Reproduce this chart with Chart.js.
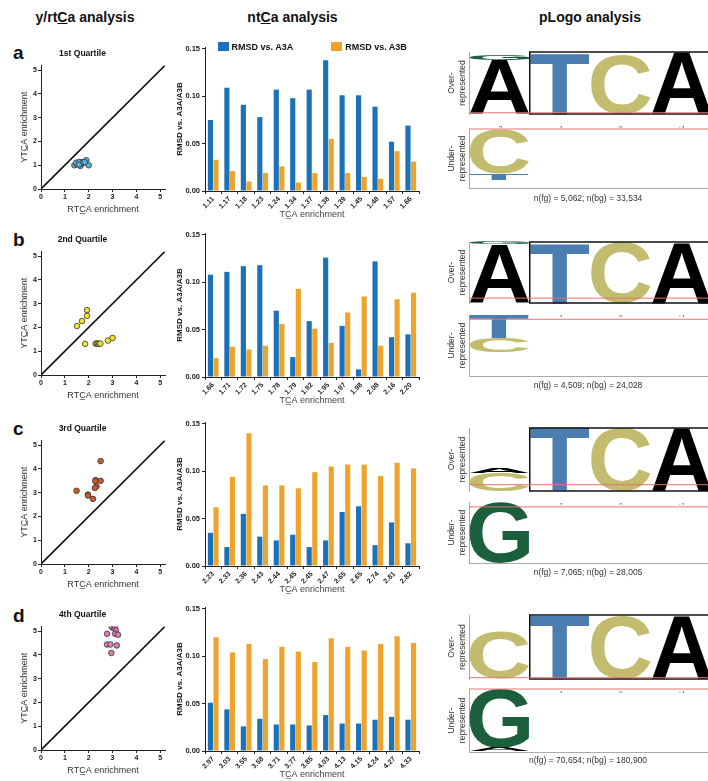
<!DOCTYPE html>
<html>
<head>
<meta charset="utf-8">
<script src="https://cdn.jsdelivr.net/npm/chart.js@4.4.1/dist/chart.umd.min.js"></script>
<style>
  html, body { margin: 0; padding: 0; background: #fff; }
  #fig { width: 708px; height: 781px; position: relative; overflow: hidden; font-family: "Liberation Sans", Arial, sans-serif; color: #111; }
  canvas { position: absolute; }
  .hdr { position: absolute; top: 9px; font-size: 14px; font-weight: bold; text-align: center; }
  .panel { position: absolute; left: 13px; font-size: 19px; font-weight: bold; line-height: 20px; }
  .count { position: absolute; left: 470px; width: 236px; text-align: center; font-size: 8.5px; line-height: 10px; color: #333; }
  .legend { position: absolute; font-size: 9px; font-weight: bold; line-height: 10px; white-space: nowrap; }
  .legend .box { display: inline-block; width: 11px; height: 9px; margin-right: 3px; vertical-align: -1px; }
  .legend .item + .item { margin-left: 38px; }
</style>
</head>
<body>
<div id="fig">
  <div class="hdr" style="left:0;width:170px">y/rt<u>C</u>a analysis</div>
  <div class="hdr" style="left:170px;width:245px">nt<u>C</u>a analysis</div>
  <div class="hdr" style="left:470px;width:240px">pLogo analysis</div>
</div>
<script>
// ---- data ----
const quartileTitles = ["1st Quartile", "2nd Quartile", "3rd Quartile", "4th Quartile"];
const panelLetters = ["a", "b", "c", "d"];

// scatter: RTCA vs YTCA enrichment
const q1Rtca = [1.40, 1.51, 1.58, 1.65, 1.72, 1.79, 1.90, 2.00, 1.48, 1.62, 1.75, 1.59, 1.83];
const q1Ytca = [1.00, 1.04, 1.10, 0.97, 1.07, 1.14, 1.21, 1.00, 1.11, 1.14, 1.11, 1.03, 1.13];
const q2Rtca = [1.51, 1.72, 1.93, 1.93, 1.85, 2.29, 2.34, 2.39, 2.44, 2.49, 2.81, 3.00];
const q2Ytca = [2.06, 2.27, 2.49, 2.73, 1.31, 1.32, 1.32, 1.32, 1.31, 1.32, 1.45, 1.56];
const q3Rtca = [2.50, 2.29, 2.28, 2.50, 2.33, 2.26, 1.49, 1.97, 1.97, 2.18];
const q3Ytca = [4.33, 3.53, 3.48, 3.50, 3.27, 3.20, 3.08, 2.92, 2.88, 2.74];
const q4Rtca = [2.97, 3.05, 3.11, 3.14, 3.11, 3.23, 2.77, 2.77, 2.91, 3.18, 2.95];
const q4Ytca = [5.17, 5.12, 5.17, 5.03, 4.89, 4.85, 4.89, 4.44, 4.44, 4.40, 4.08];
const identityLine = [0, 5.2];
const enrichmentTicks = [0, 1, 2, 3, 4, 5];

// bars: RMSD vs A3A / A3B per TCA enrichment
const q1Labels = ["1.11", "1.17", "1.18", "1.23", "1.24", "1.34", "1.37", "1.38", "1.39", "1.45", "1.48", "1.57", "1.66"];
const q1A3A = [0.075, 0.109, 0.091, 0.078, 0.107, 0.098, 0.107, 0.138, 0.101, 0.101, 0.089, 0.052, 0.069];
const q1A3B = [0.033, 0.021, 0.010, 0.019, 0.026, 0.009, 0.019, 0.055, 0.019, 0.015, 0.013, 0.042, 0.031];
const q2Labels = ["1.66", "1.71", "1.72", "1.75", "1.78", "1.79", "1.92", "1.95", "1.97", "1.98", "2.08", "2.16", "2.20"];
const q2A3A = [0.108, 0.111, 0.117, 0.118, 0.070, 0.021, 0.059, 0.126, 0.054, 0.008, 0.122, 0.042, 0.045];
const q2A3B = [0.020, 0.032, 0.029, 0.033, 0.056, 0.093, 0.051, 0.036, 0.068, 0.085, 0.033, 0.082, 0.089];
const q3Labels = ["2.23", "2.33", "2.36", "2.43", "2.44", "2.45", "2.45", "2.47", "2.65", "2.65", "2.74", "2.81", "2.82"];
const q3A3A = [0.035, 0.020, 0.055, 0.031, 0.027, 0.033, 0.020, 0.027, 0.057, 0.063, 0.022, 0.046, 0.024];
const q3A3B = [0.062, 0.094, 0.140, 0.085, 0.085, 0.082, 0.099, 0.105, 0.107, 0.107, 0.095, 0.109, 0.103];
const q4Labels = ["2.97", "3.03", "3.55", "3.58", "3.71", "3.77", "3.85", "4.03", "4.13", "4.15", "4.24", "4.27", "4.33"];
const q4A3A = [0.051, 0.044, 0.026, 0.034, 0.028, 0.028, 0.027, 0.038, 0.029, 0.029, 0.033, 0.036, 0.033];
const q4A3B = [0.120, 0.104, 0.113, 0.097, 0.110, 0.105, 0.094, 0.119, 0.110, 0.106, 0.113, 0.121, 0.114];
const rmsdTicks = [0, 0.05, 0.10, 0.15];
const rmsdLabels = ["0.00", "0.05", "0.10", "0.15"];
const rmsdMax = 0.152;

// pLogo: letter stacks per position, nearest the axis first
const logoPositions = ["-2", "-1", "0", "+1"];
const q1Over = [[["A", 0.87], ["G", 0.09]], [["T", 0.98]], [["C", 0.95]], [["A", 1.0]]];
const q1Under = [[["C", 0.76], ["T", 0.10]], [], [], []];
const q2Over = [[["A", 0.96], ["G", 0.04]], [["T", 0.98]], [["C", 1.0]], [["A", 1.0]]];
const q2Under = [[["T", 0.38], ["C", 0.23]], [], [], []];
const q3Over = [[["C", 0.29], ["A", 0.07]], [["T", 1.0]], [["C", 1.0]], [["A", 1.0]]];
const q3Under = [[["G", 1.0]], [], [], []];
const q4Over = [[["C", 0.75]], [["T", 1.0]], [["C", 0.98]], [["A", 1.0]]];
const q4Under = [[["G", 0.93], ["A", 0.06]], [], [], []];
const overThresholds = [0.02, 0.08, 0.10, 0.02];
const underThresholds = [0, -0.07, -0.08, 0];
const logoCounts = ["n(fg) = 5,062; n(bg) = 33,534", "n(fg) = 4,509; n(bg) = 24,028", "n(fg) = 7,065; n(bg) = 28,005", "n(fg) = 70,654; n(bg) = 180,900"];

// ---- layout ----
const rows = [
  { origin: 189, barTop: 47, logoTop: 52, logoBase: 114, underZero: 129, underBottom: 188, count: 193, letter: 43 },
  { origin: 375, barTop: 233, logoTop: 242, logoBase: 303, underZero: 315, underBottom: 376, count: 380, letter: 230 },
  { origin: 564, barTop: 422, logoTop: 428, logoBase: 491, underZero: 502, underBottom: 563, count: 567, letter: 419 },
  { origin: 750, barTop: 607, logoTop: 615, logoBase: 679, underZero: 689, underBottom: 752, count: 755, letter: 606 }
];
const scatterSets = [[q1Rtca, q1Ytca, "#5cb0de"], [q2Rtca, q2Ytca, "#efe52c"], [q3Rtca, q3Ytca, "#c95b2b"], [q4Rtca, q4Ytca, "#d97cb6"]];
const barSets = [[q1Labels, q1A3A, q1A3B], [q2Labels, q2A3A, q2A3B], [q3Labels, q3A3A, q3A3B], [q4Labels, q4A3A, q4A3B]];
const logoSets = [[q1Over, q1Under], [q2Over, q2Under], [q3Over, q3Under], [q4Over, q4Under]];
const letterColors = { A: "#000000", T: "#4b7db1", C: "#c3bc6f", G: "#1b5f3c" };

const FONT = '"Liberation Sans", Arial, sans-serif';
Chart.defaults.font.family = FONT;
Chart.defaults.color = "#222";

const fig = document.getElementById("fig");

function addCanvas(left, top, w, h) {
  const c = document.createElement("canvas");
  c.width = w;
  c.height = h;
  c.style.left = left + "px";
  c.style.top = top + "px";
  c.style.width = w + "px";
  c.style.height = h + "px";
  fig.appendChild(c);
  return c;
}

function addText(cls, text, style) {
  const d = document.createElement("div");
  d.className = cls;
  d.textContent = text;
  Object.assign(d.style, style);
  fig.appendChild(d);
  return d;
}

const fixedTicks = values => scale => {
  scale.ticks = values.map(value => ({ value }));
};

const axisGrid = { drawOnChartArea: false, tickLength: 3, color: "#222" };
const axisBorder = { color: "#222", width: 1 };

function scatterChart(canvas, xs, ys, color, title) {
  return new Chart(canvas, {
    type: "scatter",
    data: {
      datasets: [
        {
          type: "line",
          data: identityLine.map(v => ({ x: v, y: v })),
          borderColor: "#111",
          borderWidth: 1.6,
          pointRadius: 0,
          order: 2
        },
        {
          data: xs.map((x, i) => ({ x, y: ys[i] })),
          backgroundColor: color,
          borderColor: "#333",
          borderWidth: 0.8,
          pointRadius: 2.8,
          order: 1
        }
      ]
    },
    options: {
      responsive: false,
      animation: false,
      layout: { padding: { top: 0, right: 5, left: 0, bottom: 0 } },
      plugins: {
        legend: { display: false },
        tooltip: { enabled: false },
        title: { display: true, text: title, color: "#111", font: { size: 8.5, weight: "bold" }, padding: { top: 3, bottom: 6.2 } }
      },
      scales: {
        x: {
          type: "linear", min: 0, max: 5.2,
          ticks: { font: { size: 7, weight: "bold" }, padding: 1 },
          afterBuildTicks: fixedTicks(enrichmentTicks),
          grid: axisGrid, border: axisBorder,
          title: { display: true, text: "RTC\u0332A enrichment", color: "#333", font: { size: 9 }, padding: { top: 0, bottom: 2 } },
          afterFit: s => { s.height = 28; }
        },
        y: {
          type: "linear", min: 0, max: 5.2,
          ticks: { font: { size: 7, weight: "bold" }, padding: 1 },
          afterBuildTicks: fixedTicks(enrichmentTicks),
          grid: axisGrid, border: axisBorder,
          title: { display: true, text: "YTC\u0332A enrichment", color: "#333", font: { size: 9 }, padding: { top: 19, bottom: 0 } },
          afterFit: s => { s.width = 41; }
        }
      }
    }
  });
}

function barChart(canvas, labels, a3a, a3b) {
  return new Chart(canvas, {
    type: "bar",
    data: {
      labels,
      datasets: [
        { label: "RMSD vs. A3A", data: a3a, backgroundColor: "#1b72b8", categoryPercentage: 0.68, barPercentage: 0.92 },
        { label: "RMSD vs. A3B", data: a3b, backgroundColor: "#eea32c", categoryPercentage: 0.68, barPercentage: 0.92 }
      ]
    },
    options: {
      responsive: false,
      animation: false,
      layout: { padding: { top: 10, right: 1, left: 0, bottom: 0 } },
      plugins: { legend: { display: false }, tooltip: { enabled: false } },
      scales: {
        x: {
          ticks: { autoSkip: false, minRotation: 45, maxRotation: 45, font: { size: 7, weight: "bold" }, padding: 1 },
          grid: axisGrid, border: axisBorder,
          title: { display: true, text: "TC\u0332A enrichment", color: "#444", font: { size: 9 }, padding: { top: 0, bottom: 2.6 } },
          afterFit: s => { s.height = 32; }
        },
        y: {
          type: "linear", min: 0, max: rmsdMax,
          ticks: {
            autoSkip: false,
            callback: (v, i) => rmsdLabels[i],
            font: { size: 7.5, weight: "bold" }, padding: 2
          },
          afterBuildTicks: fixedTicks(rmsdTicks),
          grid: axisGrid, border: axisBorder,
          title: { display: true, text: "RMSD vs. A3A/A3B", color: "#111", font: { size: 8, weight: "bold" }, padding: { top: 5, bottom: 0 } },
          afterFit: s => { s.width = 35; }
        }
      }
    }
  });
}

function drawLetter(ctx, ch, x0, x1, yTop, yBot) {
  const h = yBot - yTop;
  if (h < 0.3) return;
  ctx.save();
  ctx.font = 'bold 100px ' + FONT;
  ctx.textAlign = "left";
  ctx.textBaseline = "alphabetic";
  const m = ctx.measureText(ch);
  const gw = m.actualBoundingBoxLeft + m.actualBoundingBoxRight;
  const gh = m.actualBoundingBoxAscent + m.actualBoundingBoxDescent;
  ctx.translate(x0, yTop);
  ctx.scale((x1 - x0) / gw, h / gh);
  ctx.fillStyle = letterColors[ch];
  ctx.fillText(ch, m.actualBoundingBoxLeft, m.actualBoundingBoxAscent);
  ctx.restore();
}

const logoPlugin = {
  id: "logo",
  afterDatasetsDraw(chart, args, opts) {
    const { ctx, chartArea, scales: { x, y } } = chart;
    const colW = x.getPixelForValue(1) - x.getPixelForValue(0);
    opts.stacks.forEach((stack, i) => {
      const left = x.getPixelForValue(i) - colW / 2 + 0.5;
      let base = 0;
      stack.forEach(([ch, h]) => {
        const p0 = y.getPixelForValue(base * opts.dir);
        const p1 = y.getPixelForValue((base + h) * opts.dir);
        drawLetter(ctx, ch, left, left + colW - 1, Math.min(p0, p1), Math.max(p0, p1));
        base += h;
      });
    });
    ctx.save();
    if (opts.box) {
      const bx = x.getPixelForValue(0.5);
      const top = y.getPixelForValue(1);
      const bot = y.getPixelForValue(0);
      ctx.strokeStyle = "#111";
      ctx.lineWidth = 1.5;
      ctx.strokeRect(bx, top, chartArea.right + 20 - bx, bot - top);
    }
    const ry = y.getPixelForValue(opts.threshold);
    ctx.strokeStyle = "#e8736f";
    ctx.lineWidth = 1;
    ctx.beginPath();
    ctx.moveTo(chartArea.left, ry);
    ctx.lineTo(chartArea.right + 5, ry);
    ctx.stroke();
    ctx.restore();
  }
};

function logoChart(canvas, stacks, over, threshold, padTop, padBottom) {
  return new Chart(canvas, {
    type: "bar",
    data: { labels: logoPositions, datasets: [] },
    plugins: [logoPlugin],
    options: {
      responsive: false,
      animation: false,
      layout: { padding: { top: padTop, right: 0, left: 0, bottom: padBottom } },
      plugins: {
        legend: { display: false },
        tooltip: { enabled: false },
        logo: { stacks, dir: over ? 1 : -1, threshold, box: over }
      },
      scales: {
        x: {
          display: true,
          ticks: { display: over, color: "#555", font: { size: 6.5 }, padding: 3 },
          grid: { display: false },
          border: { display: !over, color: "#aaa", width: 1 },
          afterFit: s => { s.height = over ? 14 : 1; }
        },
        y: {
          min: over ? 0 : -1,
          max: over ? 1 : 0,
          ticks: { display: false },
          grid: { display: false },
          border: { display: true, color: "#aaa", width: 1 },
          title: { display: true, text: over ? ["Over-", "represented"] : ["Under-", "represented"], color: "#333", font: { size: 8.5 }, padding: { top: 7, bottom: 0 } },
          afterFit: s => { s.width = 29; }
        }
      }
    }
  });
}

const barCharts = [];
rows.forEach((r, i) => {
  addText("panel", panelLetters[i], { top: r.letter + "px" });

  const [xs, ys, color] = scatterSets[i];
  scatterChart(addCanvas(0, r.origin - 143, 170, 171), xs, ys, color, quartileTitles[i]);

  const [labels, a3a, a3b] = barSets[i];
  barCharts.push(barChart(addCanvas(170, r.barTop - 10, 250, 186), labels, a3a, a3b));

  const [over, under] = logoSets[i];
  const overH = r.logoBase - r.logoTop;
  logoChart(addCanvas(440, r.logoTop - 6, 272, overH + 20), over, true, overThresholds[i], 6, 0);
  const underH = r.underBottom - r.underZero;
  logoChart(addCanvas(440, r.underZero - 2, 272, underH + 5), under, false, underThresholds[i], 2, 2);

  addText("count", logoCounts[i], { top: r.count + "px" });
});

// HTML legend for the first bar chart, built from its datasets
const first = barCharts[0];
const legend = document.createElement("div");
legend.className = "legend";
first.data.datasets.forEach(ds => {
  const item = document.createElement("span");
  item.className = "item";
  item.innerHTML = `<span class="box" style="background:${ds.backgroundColor}"></span>${ds.label}`;
  legend.appendChild(item);
});
fig.appendChild(legend);
const area = first.chartArea;
legend.style.top = (rows[0].barTop - 10 + area.top - 5) + "px";
legend.style.left = (170 + area.left + (area.right - area.left - legend.offsetWidth) / 2) + "px";
</script>
</body>
</html>
